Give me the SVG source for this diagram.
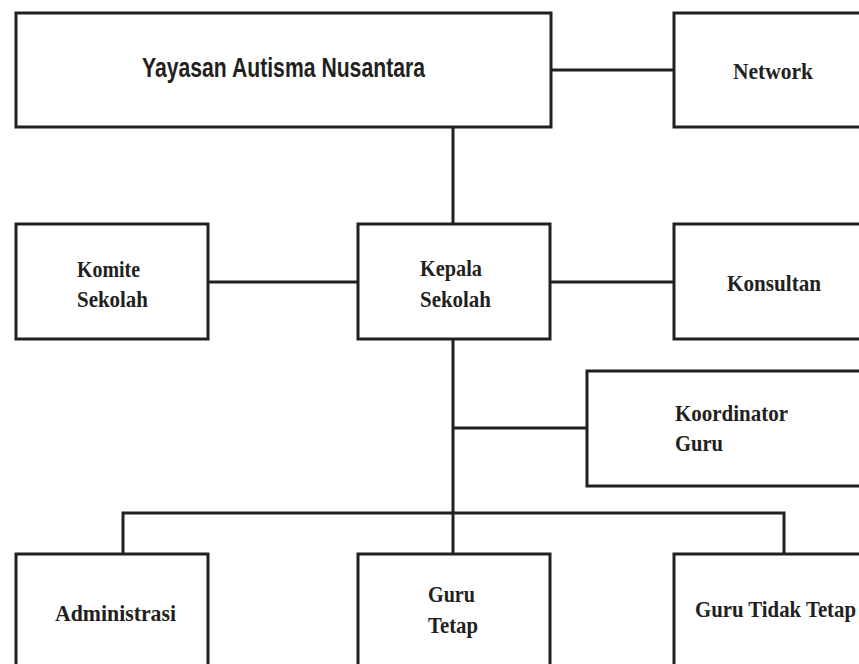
<svg xmlns="http://www.w3.org/2000/svg" width="859" height="664" viewBox="0 0 859 664">
<style>
.box{fill:#fff;stroke:#231f20;stroke-width:3}
.ln{fill:none;stroke:#231f20;stroke-width:3}
.sr{font-family:"Liberation Serif","Times New Roman",serif;font-weight:bold;font-size:24px;fill:#231f20}
.ss{font-family:"Liberation Sans",Arial,sans-serif;font-weight:bold;font-size:27px;fill:#231f20}
</style>
<rect width="859" height="664" fill="#fff"/>
<g id="connectors">
<line class="ln" x1="551" y1="70" x2="674" y2="70"/>
<line class="ln" x1="453" y1="127" x2="453" y2="224"/>
<line class="ln" x1="208" y1="282" x2="358" y2="282"/>
<line class="ln" x1="550" y1="282" x2="674" y2="282"/>
<line class="ln" x1="453" y1="339" x2="453" y2="554"/>
<line class="ln" x1="453" y1="428" x2="587" y2="428"/>
<polyline class="ln" points="123,554 123,513 784,513 784,554"/>
</g>
<g id="yayasan">
<rect class="box" x="16" y="13" width="535" height="114"/>
<text class="ss" x="142" y="77" textLength="283" lengthAdjust="spacingAndGlyphs">Yayasan Autisma Nusantara</text>
</g>
<g id="network">
<rect class="box" x="674" y="13" width="200" height="114"/>
<text class="sr" x="733" y="79" textLength="80" lengthAdjust="spacingAndGlyphs">Network</text>
</g>
<g id="komite">
<rect class="box" x="16" y="224" width="192" height="115"/>
<text class="sr" x="77" y="277" textLength="63" lengthAdjust="spacingAndGlyphs">Komite</text>
<text class="sr" x="77" y="307" textLength="71" lengthAdjust="spacingAndGlyphs">Sekolah</text>
</g>
<g id="kepala">
<rect class="box" x="358" y="224" width="192" height="115"/>
<text class="sr" x="420" y="276" textLength="62" lengthAdjust="spacingAndGlyphs">Kepala</text>
<text class="sr" x="420" y="307" textLength="71" lengthAdjust="spacingAndGlyphs">Sekolah</text>
</g>
<g id="konsultan">
<rect class="box" x="674" y="224" width="200" height="115"/>
<text class="sr" x="727" y="291" textLength="94" lengthAdjust="spacingAndGlyphs">Konsultan</text>
</g>
<g id="koordinator">
<rect class="box" x="587" y="371" width="290" height="115"/>
<text class="sr" x="675" y="421" textLength="113" lengthAdjust="spacingAndGlyphs">Koordinator</text>
<text class="sr" x="675" y="451" textLength="48" lengthAdjust="spacingAndGlyphs">Guru</text>
</g>
<g id="administrasi">
<rect class="box" x="16" y="554" width="192" height="130"/>
<text class="sr" x="55" y="621" textLength="121" lengthAdjust="spacingAndGlyphs">Administrasi</text>
</g>
<g id="guru-tetap">
<rect class="box" x="358" y="554" width="192" height="130"/>
<text class="sr" x="428" y="602" textLength="47" lengthAdjust="spacingAndGlyphs">Guru</text>
<text class="sr" x="428" y="633" textLength="50" lengthAdjust="spacingAndGlyphs">Tetap</text>
</g>
<g id="guru-tidak-tetap">
<rect class="box" x="674" y="554" width="200" height="130"/>
<text class="sr" x="695" y="617" textLength="161" lengthAdjust="spacingAndGlyphs">Guru Tidak Tetap</text>
</g>
</svg>
